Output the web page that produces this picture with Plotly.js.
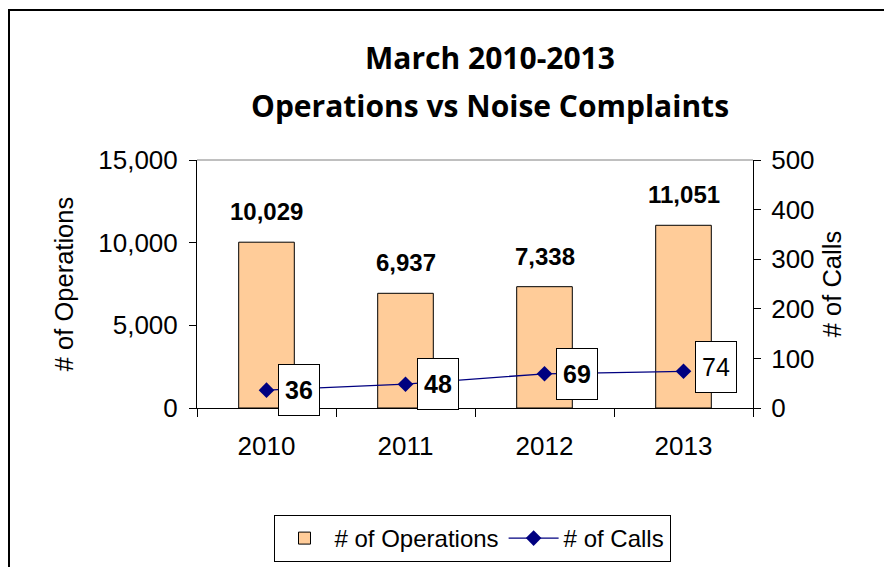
<!DOCTYPE html>
<html>
<head>
<meta charset="utf-8">
<script src="https://cdn.plot.ly/plotly-3.0.1.min.js"></script>
<style>html,body{margin:0;padding:0;background:#fff;}#chart{width:884px;height:567px;}</style>
</head>
<body>
<div id="chart"></div>
<script>
var years = ['2010', '2011', '2012', '2013'];
var operations = [10029, 6937, 7338, 11051];
var calls = [36, 48, 69, 74];
var opLabels = ['10,029', '6,937', '7,338', '11,051'];
var callLabels = ['36', '48', '69', '74'];
var callBold = [true, true, true, false];
var opTicks = [0, 5000, 10000, 15000];
var opTickText = ['0', '5,000', '10,000', '15,000'];
var callTicks = [0, 100, 200, 300, 400, 500];

var F = 'Liberation Sans, Arial, sans-serif';
var TF = 'Open Sans, Noto Sans, sans-serif';

var traces = [
  {
    type: 'bar', name: '# of Operations', x: years, y: operations,
    marker: {color: '#FFCC99', line: {color: '#000000', width: 1}},
    hoverinfo: 'skip'
  },
  {
    type: 'scatter', mode: 'lines+markers', name: '# of Calls', x: years, y: calls, yaxis: 'y2',
    line: {color: '#000080', width: 1.3},
    marker: {symbol: 'diamond', size: 12, color: '#000080'},
    hoverinfo: 'skip'
  }
];

var annotations = [
  {
    text: '<b>Operations vs Noise Complaints</b>', showarrow: false,
    xref: 'paper', yref: 'paper', x: (490 - 197) / 556, y: (408 - 105) / 248,
    xanchor: 'center', yanchor: 'middle',
    font: {family: TF, size: 30, color: '#000'}
  }
];
years.forEach(function (yr, i) {
  annotations.push({
    x: i, y: operations[i], xref: 'x', yref: 'y', yanchor: 'bottom', yshift: 15,
    text: '<b>' + opLabels[i] + '</b>', showarrow: false,
    font: {family: F, size: 24, color: '#000'}
  });
  annotations.push({
    x: i, y: calls[i], xref: 'x', yref: 'y2', xshift: 32, yshift: (i === 3 ? 4 : 0),
    text: callBold[i] ? '<b>' + callLabels[i] + '</b>' : callLabels[i], showarrow: false,
    font: {family: F, size: 25, color: '#000'},
    bgcolor: '#ffffff', bordercolor: '#000000', borderwidth: 1,
    width: 38, height: 48, valign: 'middle', align: 'center'
  });
});

var layout = {
  width: 884, height: 567,
  margin: {l: 197, r: 131, t: 160, b: 159, autoexpand: false},
  paper_bgcolor: '#ffffff', plot_bgcolor: '#ffffff',
  showlegend: true,
  bargap: 0.6,
  title: {
    text: '<b>March 2010-2013</b>',
    font: {family: TF, size: 30, color: '#000'},
    x: 490 / 884, xanchor: 'center', xref: 'container',
    y: 1 - 58 / 567, yanchor: 'middle', yref: 'container'
  },
  xaxis: {
    type: 'category', categoryorder: 'array', categoryarray: years,
    tickson: 'boundaries', ticks: 'outside', ticklen: 8, tickcolor: '#000',
    ticklabelstandoff: 15,
    showline: true, linecolor: '#000', linewidth: 1, showgrid: false, zeroline: false,
    tickfont: {family: F, size: 26, color: '#000'}, fixedrange: true
  },
  yaxis: {
    range: [0, 15000], tickvals: opTicks, ticktext: opTickText,
    ticks: 'outside', ticklen: 7, tickcolor: '#000', ticklabelstandoff: 6,
    showline: true, linecolor: '#000', linewidth: 1, showgrid: false, zeroline: false,
    tickfont: {family: F, size: 26, color: '#000'},
    title: {text: '# of Operations', font: {family: F, size: 25.5, color: '#000'}, standoff: 17},
    fixedrange: true
  },
  yaxis2: {
    range: [0, 500], tickvals: callTicks,
    overlaying: 'y', side: 'right',
    ticks: 'outside', ticklen: 7, tickcolor: '#000', ticklabelstandoff: 5,
    showline: true, linecolor: '#000', linewidth: 1, showgrid: false, zeroline: false,
    tickfont: {family: F, size: 26, color: '#000'},
    title: {text: '# of Calls', font: {family: F, size: 25.5, color: '#000'}, standoff: 9},
    fixedrange: true
  },
  legend: {
    orientation: 'h', x: (472 - 197) / 556, xanchor: 'center', y: (408 - 515) / 248, yanchor: 'top',
    bordercolor: '#000', borderwidth: 1, bgcolor: '#fff', itemwidth: 50,
    font: {family: F, size: 24, color: '#000'}, traceorder: 'normal'
  },
  shapes: [
    {type: 'line', xref: 'paper', yref: 'paper', x0: 0, x1: 1, y0: 1, y1: 1, line: {color: '#808080', width: 1}},
    {type: 'rect', xref: 'paper', yref: 'paper', x0: (9 - 197) / 556, x1: 1.3, y0: -1, y1: (408 - 10) / 248, line: {color: '#000', width: 2}, layer: 'below'}
  ],
  annotations: annotations
};

Plotly.newPlot('chart', traces, layout, {displayModeBar: false, staticPlot: true});
</script>
</body>
</html>
